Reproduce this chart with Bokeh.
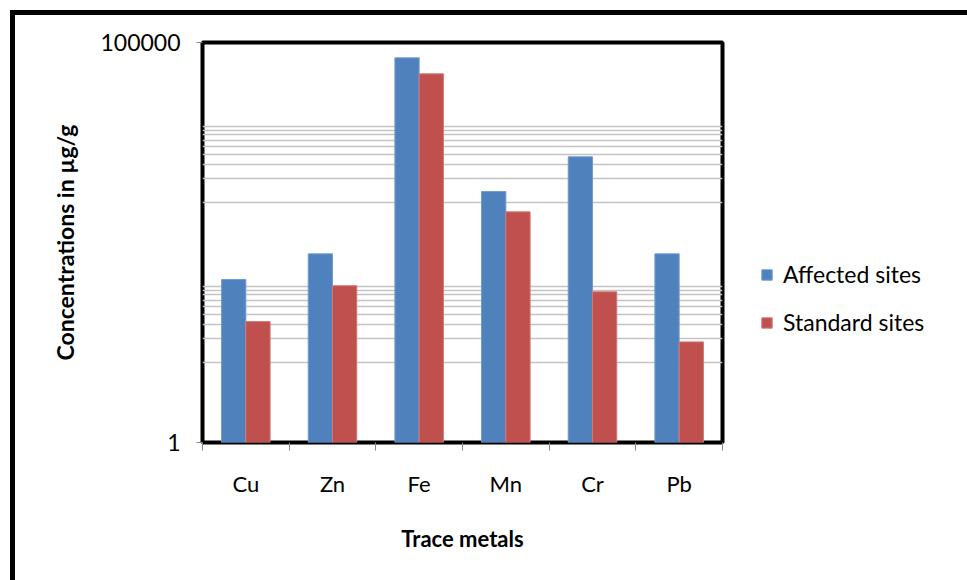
from bokeh.plotting import figure
from bokeh.models import (FactorRange, Range1d, LinearAxis, CategoricalAxis, FixedTicker,
                          BasicTickFormatter, Legend, LegendItem, ColumnDataSource)
from bokeh.transform import dodge
from bokeh.embed import file_html
from bokeh.resources import INLINE

# ---- data ----
metals = ["Cu", "Zn", "Fe", "Mn", "Cr", "Pb"]
affected_sites = [109, 228, 64300, 1372, 3724, 228]
standard_sites = [32.5, 91, 40600, 764, 76.5, 18.1]
series_names = ["Affected sites", "Standard sites"]
y_tick_values = [1, 100000]
grid_values = [10, 20, 30, 40, 50, 60, 70, 80, 90,
               1000, 2000, 3000, 4000, 5000, 6000, 7000, 8000, 9000]

# ---- styles ----
BLUE = "#4F81BD"
RED = "#C0504D"
FONT = "Lato"

source = ColumnDataSource(dict(metals=metals, affected=affected_sites, standard=standard_sites))

p = figure(frame_width=520, frame_height=400,
           x_range=FactorRange(*metals),
           y_range=Range1d(y_tick_values[0], y_tick_values[-1]),
           y_axis_type="log", x_axis_location=None,
           output_backend="svg", toolbar_location=None,
           min_border_left=187, min_border_top=27,
           min_border_right=237, min_border_bottom=138)
p.background_fill_color = "white"
p.border_fill_color = "white"
p.outline_line_color = "black"
p.outline_line_width = 4
p.styles = {"position": "relative", "left": "10px", "top": "10px", "box-sizing": "content-box",
            "border-left": "5px solid black", "border-top": "5px solid black",
            "border-right": "5px solid black"}

# grid
p.xgrid.grid_line_color = None
p.ygrid.ticker = FixedTicker(ticks=grid_values)
p.ygrid.grid_line_color = "#c4c4c4"
p.ygrid.grid_line_width = 1.5

# y axis
ya = p.yaxis[0]
ya.ticker = FixedTicker(ticks=y_tick_values, minor_ticks=[])
ya.formatter = BasicTickFormatter(use_scientific=False)
ya.axis_line_color = None
ya.major_tick_line_color = "#888888"
ya.major_tick_out = 6
ya.major_tick_in = 0
ya.minor_tick_line_color = None
ya.major_label_standoff = 16
ya.major_label_text_font = FONT
ya.major_label_text_font_size = "23px"
ya.major_label_text_color = "black"
ya.axis_label = "Concentrations in \u00b5g/g"
ya.axis_label_text_font = FONT
ya.axis_label_text_font_style = "bold"
ya.axis_label_text_font_size = "23px"
ya.axis_label_text_color = "black"
ya.axis_label_standoff = 18

# category boundary ticks (synthetic coordinates of the factor range: 0..n)
bound_axis = LinearAxis(ticker=FixedTicker(ticks=list(range(len(metals) + 1)), minor_ticks=[]))
bound_axis.axis_line_color = None
bound_axis.major_tick_line_color = "#888888"
bound_axis.major_tick_out = 8
bound_axis.major_tick_in = 0
bound_axis.minor_tick_line_color = None
bound_axis.major_label_text_font_size = "0px"
bound_axis.major_label_standoff = 0
p.add_layout(bound_axis, "below")

# category labels
cat_axis = CategoricalAxis()
cat_axis.axis_line_color = None
cat_axis.major_tick_line_color = None
cat_axis.major_tick_out = 0
cat_axis.major_label_standoff = 19
cat_axis.major_label_text_font = FONT
cat_axis.major_label_text_font_size = "22px"
cat_axis.major_label_text_color = "black"
cat_axis.axis_label = "Trace metals"
cat_axis.axis_label_text_font = FONT
cat_axis.axis_label_text_font_style = "bold"
cat_axis.axis_label_text_font_size = "22px"
cat_axis.axis_label_text_color = "black"
cat_axis.axis_label_standoff = 25
p.add_layout(cat_axis, "below")

# bars
r1 = p.vbar(x=dodge("metals", -0.14, range=p.x_range), top="affected", bottom=1,
            width=0.28, source=source, fill_color=BLUE, line_color="#6f9bd1", line_width=1)
r2 = p.vbar(x=dodge("metals", 0.14, range=p.x_range), top="standard", bottom=1,
            width=0.28, source=source, fill_color=RED, line_color="#d07a78", line_width=1)

legend = Legend(items=[LegendItem(label=series_names[0], renderers=[r1]),
                       LegendItem(label=series_names[1], renderers=[r2])],
                location="top_left")
legend.title = "\u00a0"
legend.title_text_font_size = "1px"
legend.title_standoff = 179
legend.border_line_color = None
legend.background_fill_alpha = 0
legend.padding = 0
legend.margin = 38
legend.spacing = 20
legend.glyph_width = 13
legend.glyph_height = 13
legend.label_standoff = 10
legend.label_text_font = FONT
legend.label_text_font_size = "23px"
legend.label_text_color = "black"
p.add_layout(legend, "right")

open("out.html", "w").write(file_html(p, INLINE))
